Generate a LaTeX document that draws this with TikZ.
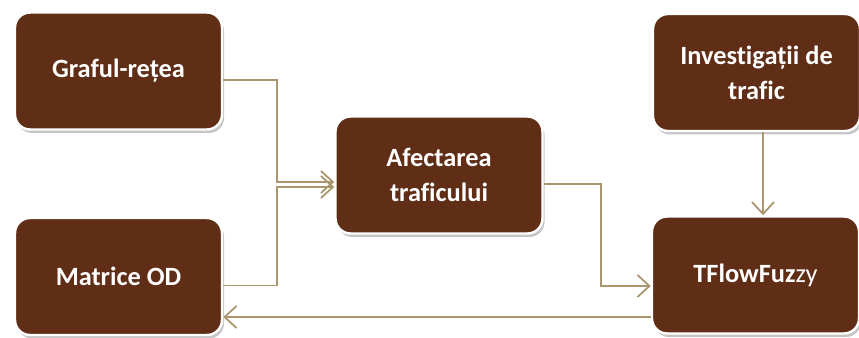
\documentclass[tikz,border=0pt]{standalone}
\usepackage{fontspec}
\setmainfont[Ligatures=CommonOff]{Carlito}
\usepackage{xcolor}
\usetikzlibrary{arrows.meta,positioning,shadows,calc}

\definecolor{brownbox}{RGB}{96,46,22}
\definecolor{tanline}{RGB}{170,150,110}

\begin{document}
\begin{tikzpicture}[>={Straight Barb[length=2.4mm,width=4.4mm]},
    stage/.style={rectangle, draw=white, line width=1.4pt, rounded corners=0.3cm, fill=brownbox,
        text=white, font=\fontsize{15}{20}\selectfont\bfseries, align=center,
        minimum width=4.14cm, minimum height=2.34cm,
        drop shadow={shadow xshift=0.4mm, shadow yshift=-0.7mm, fill=black!45, opacity=0.5}},
    flow/.style={->, draw=tanline, line width=1pt}]
    \useasboundingbox (0,0) rectangle (17.18,-6.76);

    \node [stage] (graf) at (2.37,-1.42) {Graful-rețea};
    \node [stage] (matrice) at (2.37,-5.53) {Matrice OD};
    \node [stage] (afect) at (8.78,-3.50) {Afectarea\\traficului};
    \node [stage] (invest) at (15.13,-1.45) {Investigații de\\trafic};
    \node [stage] (tflow) at (15.11,-5.50) {TFlowFuz\textmd{zy}};

    \draw [flow] ([yshift=-1.8mm]graf.east) -- ++(1.08,0) |- ([yshift=-1.4mm]afect.west);
    \draw [flow] ([yshift=-1.8mm]matrice.east) -- ++(1.08,0) |- ([yshift=-2.4mm]afect.west);
    \draw [flow] ([yshift=-1.8mm]afect.east) -- ++(1.15,0) |- ([yshift=-2.2mm]tflow.west);
    \draw [flow] ([xshift=1.3mm]invest.south) -- ([xshift=1.3mm]invest.south |- tflow.north);
    \coordinate (back) at ([yshift=-8.4mm]tflow.west);
    \draw [flow] (back) -- (back -| matrice.east);
\end{tikzpicture}
\end{document}
